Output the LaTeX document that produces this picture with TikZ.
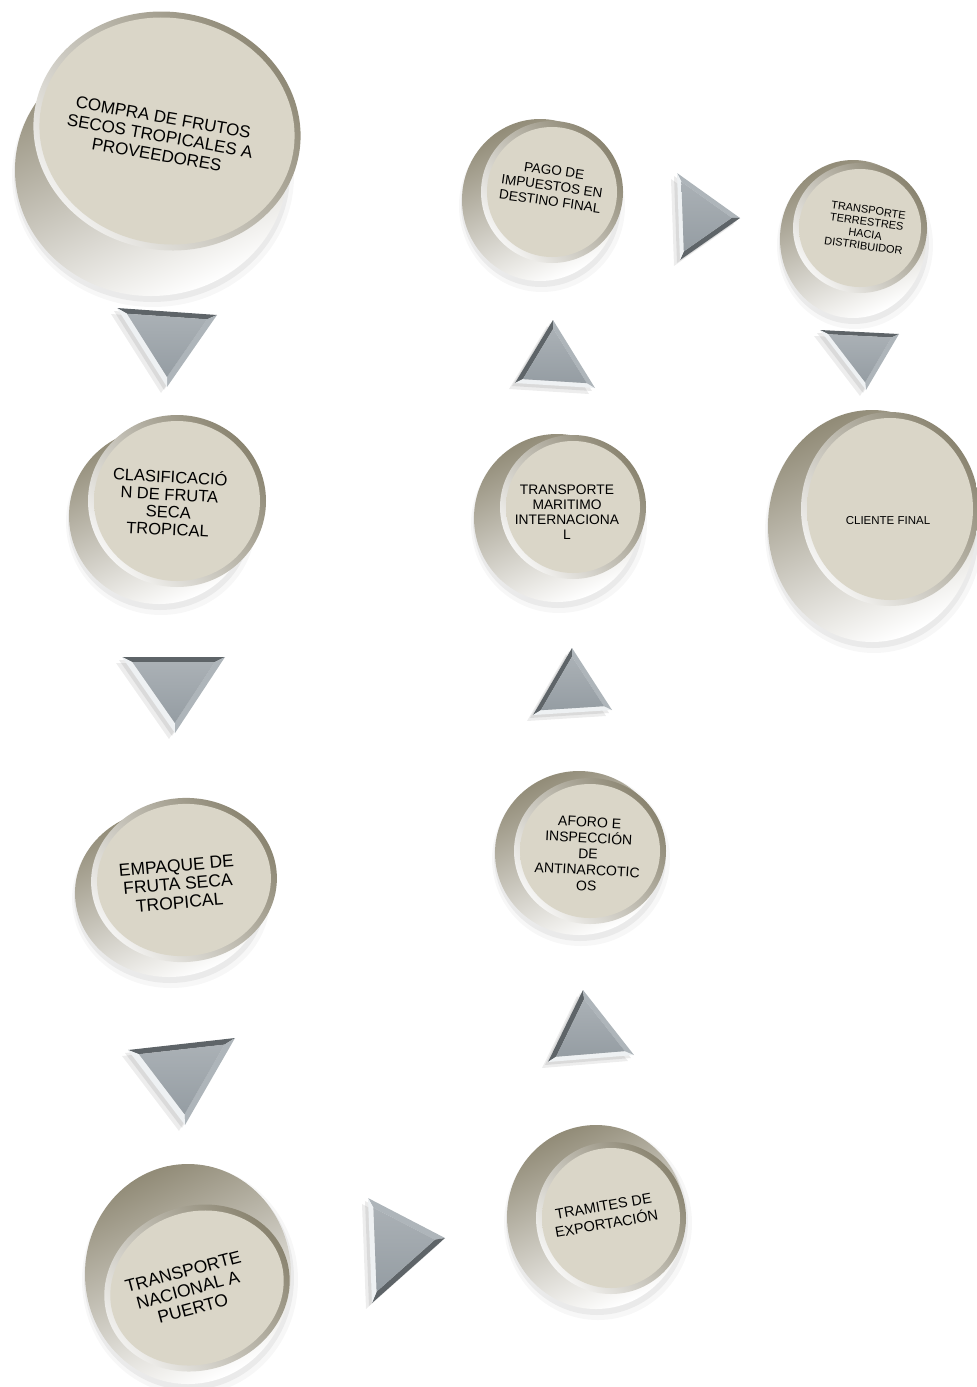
\documentclass[tikz,border=0pt]{standalone}
\usepackage{fontspec}
\setmainfont{Liberation Sans}
\usetikzlibrary{calc}
\definecolor{facec}{HTML}{DAD6C8}
\definecolor{facee}{HTML}{C9C4B2}
\definecolor{bevd}{HTML}{8A8470}
\definecolor{bodyd}{HTML}{928C78}
\definecolor{bodym}{HTML}{EAE8E0}
\definecolor{trif}{HTML}{959DA3}
\definecolor{trid}{HTML}{5E6468}
\definecolor{trim}{HTML}{AEB5BA}
\definecolor{tril}{HTML}{EEF1F3}
\pgfdeclareradialshading{facesh}{\pgfpoint{0bp}{0bp}}{color(0bp)=(facec); color(36bp)=(facec); color(47bp)=(facee); color(50bp)=(facee)}
\tikzset{
  lbl/.style={align=center, text=black, inner sep=0pt},
}
% #1 body centre, #2 #3 body radii, #4 face centre, #5 #6 face radii, #7 face rotation
\newcommand\mydisk[7]{%
  \fill[black,opacity=.03] ($(#1)+(2,6)$) ellipse [x radius=#2+5, y radius=#3+5];
  \fill[black,opacity=.05] ($(#1)+(1,4)$) ellipse [x radius=#2+2, y radius=#3+2];
  \shade[top color=bodyd, middle color=bodym, bottom color=white, shading angle=25] (#1) ellipse [x radius=#2, y radius=#3];
  \shade[rotate around={#7:(#4)}, top color=bevd, bottom color=white!92!bevd, shading angle=-50] (#4) ellipse [x radius=#5, y radius=#6];
  \shade[rotate around={#7:(#4)}, shading=facesh] (#4) ellipse [x radius=#5-6, y radius=#6-6];
}
\newcommand\mytri[6]{%
  \coordinate (tA) at (#1); \coordinate (tB) at (#2); \coordinate (tC) at (#3);
  \coordinate (tG) at ($1/3*(tA)+1/3*(tB)+1/3*(tC)$);
  \coordinate (ta) at ($(tG)!0.8!(tA)$);
  \coordinate (tb) at ($(tG)!0.8!(tB)$);
  \coordinate (tc) at ($(tG)!0.8!(tC)$);
  \fill[black,opacity=.07] ($(tA)+(-6,6)$) -- ($(tB)+(-6,6)$) -- ($(tC)+(-6,6)$) -- cycle;
  \fill[black,opacity=.08] ($(tA)+(-3,3)$) -- ($(tB)+(-3,3)$) -- ($(tC)+(-3,3)$) -- cycle;
  \fill[#4] (tA) -- (tB) -- (tb) -- (ta) -- cycle;
  \fill[#5] (tB) -- (tC) -- (tc) -- (tb) -- cycle;
  \fill[#6] (tC) -- (tA) -- (ta) -- (tc) -- cycle;
  \shade[top color=trif!80!white, bottom color=trif] (ta) -- (tb) -- (tc) -- cycle;
}
\begin{document}
\begin{tikzpicture}[x=1pt,y=-1pt]
\useasboundingbox (0,0) rectangle (977,1387);

% disks
\mydisk{151,170}{136}{126}{167,131}{134}{119}{-10}
\mydisk{159,516}{90}{88}{177,501}{89}{86}{0}
\mydisk{169,893}{94}{84}{184,880}{93}{82}{5}
\mydisk{188,1274}{103}{110}{197,1288}{94}{82}{20}
\mydisk{596,1217}{89}{92}{611,1218}{75}{76}{0}
\mydisk{579,853}{84}{82}{590,851}{76}{73}{0}
\mydisk{557,518}{83}{84}{573,507}{73}{72}{0}
\mydisk{540,200}{78}{81}{552,192}{71}{71}{0}
\mydisk{853,239}{73}{79}{860,228}{67}{65}{0}
\mydisk{872,526}{104}{116}{890,509}{89}{97}{0}

% triangles (down)
\mytri{117,308}{217,315}{167,387}{trid}{trim}{tril}
\mytri{122,657}{225,657}{175,733}{trid}{trim}{tril}
\mytri{128,1050}{235,1038}{185,1125}{trid}{trim}{tril}
\mytri{820,330}{899,334}{866,390}{trid}{trim}{tril}
% triangles (up)
\mytri{553,320}{515,383}{595,388}{trid}{tril}{trim}
\mytri{572,648}{533,715}{612,710}{trid}{tril}{trim}
\mytri{583,990}{548,1062}{634,1055}{trid}{tril}{trim}
% triangles (right)
\mytri{677,173}{740,218}{680,260}{trim}{trid}{tril}
\mytri{368,1198}{445,1238}{372,1303}{trim}{trid}{tril}

% labels
\node[lbl, font=\fontsize{17}{19}\selectfont, rotate=-10] (compra) at (160,136)
  {COMPRA DE FRUTOS\\SECOS TROPICALES A\\PROVEEDORES};
\node[lbl, font=\fontsize{16.5}{17.5}\selectfont, rotate=-3] (clasif) at (169,502)
  {CLASIFICACIÓ\\N DE FRUTA\\SECA\\TROPICAL};
\node[lbl, font=\fontsize{17.5}{18.5}\selectfont, rotate=5] (empaque) at (178,884)
  {EMPAQUE DE\\FRUTA SECA\\TROPICAL};
\node[lbl, font=\fontsize{17.5}{19}\selectfont, rotate=15] (nacional) at (188,1290)
  {TRANSPORTE\\NACIONAL A\\PUERTO};
\node[lbl, font=\fontsize{14.5}{18}\selectfont, rotate=10] (tramites) at (605,1215)
  {TRAMITES DE\\EXPORTACIÓN};
\node[lbl, font=\fontsize{14}{16}\selectfont, rotate=-3] (aforo) at (588,854)
  {AFORO E\\INSPECCIÓN\\DE\\ANTINARCOTIC\\OS};
\node[lbl, font=\fontsize{13.8}{15}\selectfont] (maritimo) at (567,512)
  {TRANSPORTE\\MARITIMO\\INTERNACIONA\\L};
\node[lbl, font=\fontsize{13.5}{15.5}\selectfont, rotate=-8] (pago) at (552,186)
  {PAGO DE\\IMPUESTOS EN\\DESTINO FINAL};
\node[lbl, font=\fontsize{11}{12}\selectfont, rotate=-8] (terrestres) at (866,228)
  {TRANSPORTE\\TERRESTRES\\HACIA\\DISTRIBUIDOR};
\node[lbl, font=\fontsize{11.5}{12}\selectfont] (cliente) at (888,521)
  {CLIENTE FINAL};
\end{tikzpicture}
\end{document}
